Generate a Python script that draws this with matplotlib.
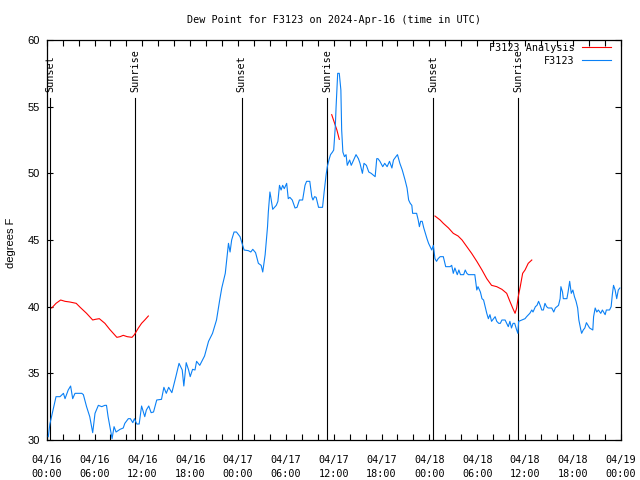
import matplotlib
matplotlib.use("Agg")
import matplotlib.pyplot as plt
import numpy as np

# ---------------- data ----------------
title = "Dew Point for F3123 on 2024-Apr-16 (time in UTC)"
ylabel = "degrees F"

# hours since 2024-04-16 00:00 UTC
obs_hours = [0.2, 0.4, 0.8, 1.17, 1.67, 2.1, 2.3, 2.7, 3.0, 3.26, 3.55, 4.4, 4.6, 5.0, 5.4, 5.77,
             6.06, 6.48, 6.9, 7.3, 7.5, 7.7, 8.0, 8.2, 8.45, 8.7, 9.2, 9.6, 9.8, 10.24, 10.5, 10.8,
             11.0, 11.3, 11.6, 11.9, 12.3, 12.5, 12.8, 13.1, 13.4, 13.8, 14.4, 14.7, 15.0, 15.3,
             15.7, 16.2, 16.6, 17.0, 17.2, 17.5, 17.8, 18.0, 18.3, 18.6, 18.8, 19.2, 19.8, 20.3,
             20.8, 21.3, 21.7, 21.96, 22.2, 22.4, 22.6, 22.8, 23.0, 23.2, 23.5, 23.8, 24.25, 24.5,
             24.76, 25.3, 25.6, 25.85, 26.2, 26.55, 26.9, 27.1, 27.4, 27.7, 27.8, 28.0, 28.1, 28.35,
             28.8, 29.0, 29.2, 29.4, 29.6, 29.8, 30.1, 30.3, 30.5, 30.8, 31.15, 31.4, 31.7, 32.1,
             32.4, 32.6, 33.0, 33.25, 33.4, 33.6, 33.8, 34.1, 34.6, 34.8, 35.05, 35.2, 35.4, 35.6,
             35.85, 36.0, 36.2, 36.3, 36.5, 36.7, 36.9, 37.0, 37.15, 37.35, 37.55, 37.7, 38.0,
             38.2, 38.5, 38.8, 39.1, 39.3, 39.6, 39.8, 40.1, 40.4, 40.7, 41.2, 41.4, 41.55, 41.8,
             42.15, 42.4, 42.7, 43.0, 43.3, 43.5, 43.8, 44.0, 44.3, 44.6, 44.95, 45.2, 45.4, 45.6,
             45.8, 45.9, 46.4, 46.6, 46.75, 46.9, 47.1, 47.3, 47.5, 47.7, 47.9, 48.1, 48.3, 48.5,
             48.7, 48.9, 49.1, 49.35, 49.75, 50.05, 50.6, 50.8, 51.0, 51.2, 51.5, 51.7, 51.9, 52.3,
             52.5, 52.7, 52.9, 53.7, 53.95, 54.1, 54.4, 54.6, 54.8, 55.0, 55.2, 55.4, 55.6, 55.8,
             56.25, 56.45, 56.7, 56.9, 57.1, 57.5, 57.7, 57.9, 58.1, 58.3, 58.5, 58.7, 58.95, 59.1,
             59.2, 59.6, 60.0, 60.2, 60.6, 60.85, 61.0, 61.3, 61.5, 61.7, 61.9, 62.1, 62.3, 62.5,
             62.7, 62.9, 63.35, 63.6, 63.8, 64.0, 64.2, 64.4, 64.5, 64.7, 64.8, 65.25, 65.4, 65.6,
             65.8, 66.0, 66.2, 66.4, 66.6, 66.75, 67.0, 67.1, 67.3, 67.5, 67.7, 67.9, 68.1, 68.5,
             68.6, 68.8, 69.0, 69.2, 69.5, 69.7, 70.05, 70.2, 70.6, 70.8, 70.95, 71.1, 71.3, 71.5,
             71.7, 71.9]
obs_values = [30.25, 31.2, 32.25, 33.25, 33.25, 33.5, 33.1, 33.75, 34.05, 33.1, 33.5, 33.5, 33.4,
              32.5, 31.75, 30.55, 32.0, 32.6, 32.5, 32.6, 32.6, 31.75, 30.75, 30.1, 31.0, 30.6,
              30.8, 30.9, 31.25, 31.6, 31.6, 31.3, 31.6, 31.2, 31.2, 32.55, 31.75, 32.25, 32.55,
              32.05, 32.1, 33.0, 33.05, 33.95, 33.5, 33.95, 33.55, 34.75, 35.75, 35.25, 34.05,
              35.8, 35.25, 34.75, 35.3, 35.25, 35.9, 35.6, 36.3, 37.4, 38.0, 39.0, 40.5, 41.4,
              42.0, 42.5, 43.6, 44.75, 44.1, 45.0, 45.6, 45.6, 45.25, 44.75, 44.25, 44.2, 44.1,
              44.3, 44.05, 43.25, 43.1, 42.6, 43.9, 46.0, 47.1, 48.6, 48.25, 47.3, 47.6, 47.9,
              49.1, 48.75, 49.1, 48.85, 49.25, 48.1, 48.2, 48.0, 47.4, 47.45, 48.0, 48.0, 49.1,
              49.4, 49.4, 48.25, 48.0, 48.25, 48.2, 47.45, 47.45, 48.6, 49.9, 50.5, 51.0, 51.4,
              51.6, 51.75, 53.5, 55.0, 57.5, 57.5, 56.25, 53.25, 51.6, 51.25, 51.4, 50.6, 51.0,
              50.6, 51.0, 51.4, 51.1, 50.75, 50.0, 50.75, 50.6, 50.1, 50.0, 49.75, 51.1, 51.1,
              50.9, 50.5, 50.75, 50.5, 50.9, 50.4, 51.0, 51.25, 51.4, 50.75, 50.25, 49.5, 48.9,
              48.0, 47.75, 47.6, 47.0, 47.0, 46.5, 46.0, 46.4, 46.4, 45.9, 45.5, 45.1, 44.75,
              44.5, 44.25, 44.6, 43.6, 43.4, 43.6, 43.75, 43.75, 43.0, 43.0, 43.1, 42.5, 42.9,
              42.4, 42.75, 42.4, 42.4, 42.75, 42.5, 42.4, 42.4, 41.25, 41.5, 41.1, 40.6, 40.5,
              40.0, 39.5, 39.1, 39.4, 38.9, 39.25, 38.9, 38.75, 38.75, 39.0, 39.0, 38.75, 38.5,
              38.9, 38.4, 38.75, 38.75, 38.25, 38.0, 38.9, 39.0, 39.1, 39.25, 39.5, 39.75, 39.6,
              40.0, 40.1, 40.4, 40.1, 39.75, 39.75, 40.25, 40.0, 39.9, 39.9, 39.6, 39.9, 40.0,
              40.1, 40.6, 41.5, 41.1, 40.6, 40.6, 41.1, 41.9, 41.0, 41.25, 40.75, 40.4, 39.9,
              39.0, 38.25, 38.0, 38.25, 38.4, 38.8, 38.6, 38.4, 38.25, 39.25, 39.9, 39.6, 39.75,
              39.5, 39.75, 39.4, 39.75, 39.75, 40.0, 40.9, 41.6, 41.25, 40.6, 41.25, 41.4]

ana1_hours = [0.63, 1.17, 1.75, 2.3, 2.9, 3.7, 4.2, 5.0, 5.77, 6.1, 6.6, 7.3, 7.9, 8.35, 8.8, 9.2,
              9.6, 10.1, 10.7, 11.0, 11.5, 11.9, 12.3, 12.75]
ana1_values = [39.9, 40.25, 40.5, 40.4, 40.35, 40.25, 39.95, 39.5, 39.0, 39.05, 39.1, 38.75, 38.3,
               38.0, 37.7, 37.75, 37.85, 37.75, 37.7, 37.9, 38.4, 38.75, 39.0, 39.3]
ana2_hours = [35.75, 36.2, 36.4, 36.7]
ana2_values = [54.4, 53.6, 53.25, 52.55]
ana3_hours = [48.7, 49.35, 49.75, 50.4, 51.0, 51.6, 52.1, 52.7, 53.3, 53.95, 54.6, 55.2, 55.8,
              56.45, 57.1, 57.7, 58.1, 58.45, 58.75, 58.95, 59.15, 59.4, 59.7, 60.0, 60.4, 60.85]
ana3_values = [46.8, 46.5, 46.25, 45.9, 45.5, 45.3, 45.0, 44.5, 44.0, 43.4, 42.75, 42.1, 41.6,
               41.5, 41.3, 41.0, 40.4, 39.9, 39.5, 39.9, 40.75, 41.5, 42.5, 42.75, 43.25, 43.5]

sunset_hours = [0.41, 24.47, 48.47]
sunrise_hours = [11.13, 35.17, 59.13]

xtick_hours = [0, 6, 12, 18, 24, 30, 36, 42, 48, 54, 60, 66, 72]
xtick_labels = ["04/16\n00:00", "04/16\n06:00", "04/16\n12:00", "04/16\n18:00",
                "04/17\n00:00", "04/17\n06:00", "04/17\n12:00", "04/17\n18:00",
                "04/18\n00:00", "04/18\n06:00", "04/18\n12:00", "04/18\n18:00",
                "04/19\n00:00"]
ytick_values = [30, 35, 40, 45, 50, 55, 60]

# ---------------- plot ----------------
W, H = 640, 480
fig = plt.figure(figsize=(6.4, 4.8), dpi=100)
L, R, T, B = 46.7, 620.7, 40, 440
ax = fig.add_axes([L / W, 1 - B / H, (R - L) / W, (B - T) / H])

mono = "DejaVu Sans Mono"
sans = "Liberation Sans"
fs = 7.3
lw = 0.8

ax.set_xlim(0, 72)
ax.set_ylim(30, 60)

line_top = 55.65
label_y = 56.1
for h in sunset_hours:
    ax.plot([h, h], [30, line_top], color="black", lw=lw, zorder=1)
    ax.text(h, label_y, "Sunset", rotation=90, ha="center", va="bottom",
            fontsize=fs, family=mono, zorder=1)
for h in sunrise_hours:
    ax.plot([h, h], [30, line_top], color="black", lw=lw, zorder=1)
    ax.text(h, label_y, "Sunrise", rotation=90, ha="center", va="bottom",
            fontsize=fs, family=mono, zorder=1)

red = "#ff0000"
blue = "#0a80f5"
l_ana, = ax.plot(ana1_hours, ana1_values, color=red, lw=lw, zorder=2, label="F3123 Analysis")
ax.plot(ana2_hours, ana2_values, color=red, lw=lw, zorder=2)
ax.plot(ana3_hours, ana3_values, color=red, lw=lw, zorder=2)
l_obs, = ax.plot(obs_hours, obs_values, color=blue, lw=lw, zorder=3, label="F3123")

ax.set_xticks(xtick_hours)
ax.set_xticklabels(xtick_labels, family=mono, fontsize=fs)
for lab in ax.get_xticklabels():
    lab.set_linespacing(1.45)
ax.set_xticks(np.arange(0, 73, 2), minor=True)
ax.set_yticks(ytick_values)
ax.set_yticklabels([str(v) for v in ytick_values], family=sans, fontsize=8)

ax.tick_params(axis="both", which="both", direction="in", top=True, right=True,
               length=4, width=0.8, color="black")
ax.tick_params(axis="x", which="major", pad=11)
ax.tick_params(axis="y", which="major", pad=5)
for s in ax.spines.values():
    s.set_linewidth(0.9)

fig.text(333.7 / W, 1 - 20 / H, title, ha="center", va="center", family=mono, fontsize=fs)
fig.text(11 / W, 1 - 243 / H, ylabel, rotation=90, ha="center", va="center",
         family=sans, fontsize=8)

leg = ax.legend(handles=[l_ana, l_obs], loc="upper right",
                bbox_to_anchor=(611 / W, 1 - 43 / H), bbox_transform=fig.transFigure,
                frameon=False, markerfirst=False, handlelength=2.9, handletextpad=0.7,
                borderaxespad=0, borderpad=0, labelspacing=0.25,
                prop={"family": mono, "size": fs})

fig.savefig("out.png", dpi=100)
